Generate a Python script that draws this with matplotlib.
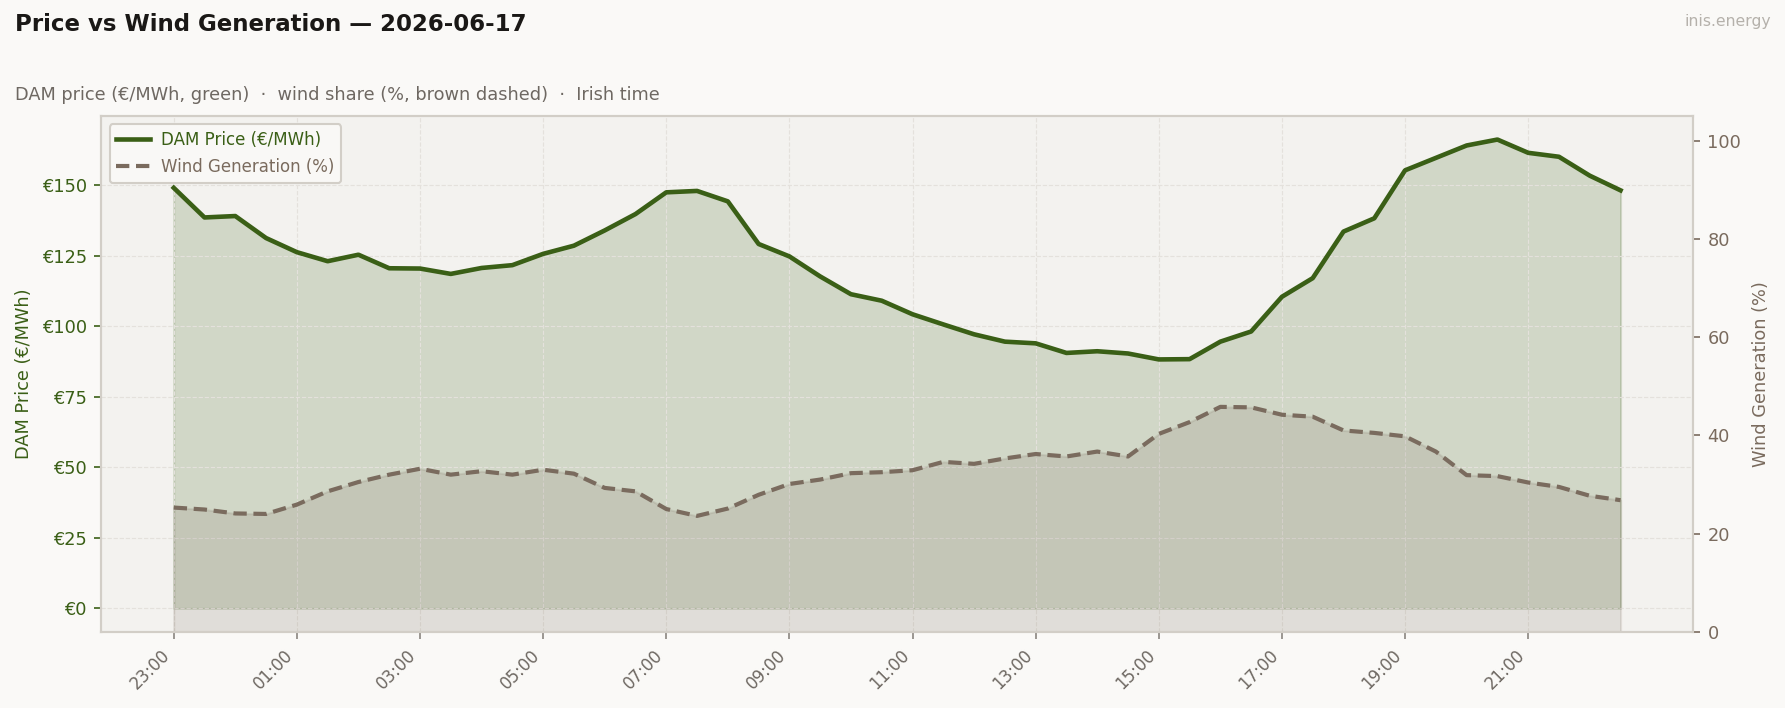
import matplotlib
matplotlib.use("Agg")
import matplotlib.pyplot as plt
import matplotlib.dates as mdates
import pandas as pd

# half-hourly, Irish time, starting 23:00 the evening before
times = pd.date_range("2026-06-16 23:00", periods=48, freq="30min")

price = [149.0, 138.5, 139.0, 131.2, 126.2, 123.0, 125.3, 120.5, 120.4, 118.5,
         120.6, 121.6, 125.6, 128.5, 133.9, 139.7, 147.4, 147.9, 144.2, 129.1,
         124.7, 117.6, 111.3, 109.0, 104.2, 100.6, 97.1, 94.5, 93.9, 90.5,
         91.1, 90.3, 88.2, 88.3, 94.5, 98.1, 110.4, 117.0, 133.5, 138.2,
         155.2, 159.6, 164.0, 166.1, 161.4, 160.0, 153.3, 148.1]

wind = [25.3, 24.9, 24.1, 24.0, 25.9, 28.6, 30.5, 32.0, 33.2, 32.0,
        32.7, 32.0, 33.0, 32.2, 29.3, 28.6, 25.0, 23.6, 25.1, 27.9,
        30.1, 31.0, 32.3, 32.5, 32.9, 34.6, 34.2, 35.3, 36.2, 35.7,
        36.7, 35.7, 40.3, 42.7, 45.8, 45.7, 44.2, 43.8, 41.0, 40.5,
        39.8, 36.7, 31.9, 31.7, 30.4, 29.5, 27.7, 26.8]

title = "Price vs Wind Generation \u2014 2026-06-17"
subtitle = "DAM price (\u20ac/MWh, green)  \u00b7  wind share (%, brown dashed)  \u00b7  Irish time"

green = "#3a5f16"
brown = "#7a6b5e"
grey_txt = "#6e6862"
spine_c = "#d2cec7"

fig = plt.figure(figsize=(11.9, 4.72), dpi=150, facecolor="#faf9f7")
ax = fig.add_axes([0.0568, 0.1076, 0.8916, 0.7284])
ax.set_facecolor("#f3f2ef")

ax.fill_between(times, 0, price, color=green, alpha=0.18)
l1, = ax.plot(times, price, color=green, lw=2.2, label="DAM Price (\u20ac/MWh)")

ax2 = ax.twinx()
ax2.fill_between(times, 0, wind, color=brown, alpha=0.15)
l2, = ax2.plot(times, wind, color=brown, lw=2.0, ls=(0, (3.2, 1.6)), label="Wind Generation (%)")
ax2.set_ylim(0, 105)
ax2.set_yticks([0, 20, 40, 60, 80, 100])

ax.set_yticks([0, 25, 50, 75, 100, 125, 150])
ax.yaxis.set_major_formatter(matplotlib.ticker.FuncFormatter(lambda v, p: "\u20ac%d" % v))
ax.set_xticks(times[::4])
ax.xaxis.set_major_formatter(mdates.DateFormatter("%H:%M"))
plt.setp(ax.get_xticklabels(), rotation=45, ha="right")

ax.grid(True, color="#e4e1dc", ls="--", lw=0.55)
ax.tick_params(axis="x", colors=grey_txt, labelsize=8, color="#8a8580")
ax.tick_params(axis="y", colors=green, labelsize=8.5, color=green)
ax2.tick_params(axis="y", colors=brown, labelsize=8.5, color=brown)
ax.set_ylabel("DAM Price (\u20ac/MWh)", color=green, fontsize=8.5)
ax2.set_ylabel("Wind Generation (%)", color=brown, fontsize=8.5, labelpad=5)

for a in (ax, ax2):
    for s in a.spines.values():
        s.set_color(spine_c)
        s.set_linewidth(1.0)

leg = ax2.legend(handles=[l1, l2], loc="upper left", fontsize=8,
                 facecolor="#f9f8f6", edgecolor=spine_c, framealpha=1.0,
                 labelcolor="linecolor", handlelength=2.0, handletextpad=0.7,
                 borderpad=0.4, labelspacing=0.55)

fig.text(0.0084, 0.965, title, fontsize=11, fontweight="bold", color="#1a1816", va="center")
fig.text(0.0084, 0.866, subtitle, fontsize=8.5, color=grey_txt, va="center")
fig.text(0.992, 0.97, "inis.energy", fontsize=7.5, color="#b5b1ab", ha="right", va="center")

fig.savefig("out.png", dpi=150, facecolor=fig.get_facecolor())
